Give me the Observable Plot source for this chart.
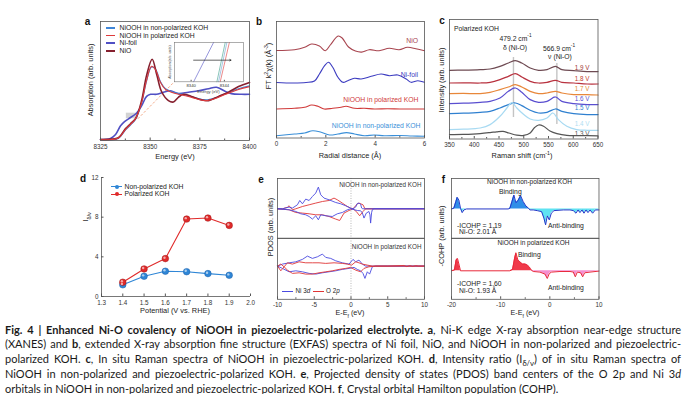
<!DOCTYPE html>
<html><head><meta charset="utf-8">
<script src="https://cdn.jsdelivr.net/npm/d3@7"></script>
<script src="https://cdn.jsdelivr.net/npm/@observablehq/plot@0.6"></script>
<style>
html,body{margin:0;padding:0;background:#fff;}
#fig{position:relative;width:686px;height:394px;overflow:hidden;background:#fff;font-family:"Liberation Sans",Arial,sans-serif;color:#222;}
.t{position:absolute;white-space:nowrap;line-height:1;}
.t sup,.t sub{font-size:0.7em;line-height:0;}
.cap{position:absolute;left:5px;width:676px;font-family:Lato,"Open Sans",sans-serif;font-size:11px;line-height:1;white-space:nowrap;color:#1a1a1a;}
.cap sub{font-size:0.7em;line-height:0;}
.sw{position:absolute;}
</style></head><body><div id="fig"></div>
<script>
// ---------- Panel a: XANES (energy eV, absorption) ----------
const xanesNiFoil = [[8325,0.014],[8330,0.03],[8332.6,0.086],[8335.1,0.21],[8337.1,0.27],[8339.1,0.31],[8343.1,0.39],[8345.6,0.49],[8348.2,0.63],[8350.2,0.66],[8353.2,0.66],[8356.7,0.69],[8360.2,0.71],[8364.3,0.67],[8369.3,0.69],[8374.3,0.71],[8379.4,0.74],[8383.4,0.76],[8387.9,0.70],[8390.9,0.67],[8396,0.66],[8400,0.66]];
const xanesNiO = [[8325,0.014],[8330,0.02],[8334,0.04],[8337.6,0.17],[8340.1,0.24],[8342.6,0.31],[8345.6,0.56],[8348.2,0.93],[8351,1.16],[8353.4,0.93],[8355.7,0.70],[8359.2,0.57],[8361.7,0.55],[8364.3,0.62],[8366.8,0.66],[8370.8,0.63],[8375.8,0.58],[8379.4,0.57],[8384.4,0.63],[8389.4,0.69],[8394.5,0.77],[8400,0.83]];
const xanesNiOOHpol = [[8325,0.01],[8334,0.035],[8337.6,0.16],[8340.1,0.23],[8342.6,0.31],[8345.6,0.53],[8348.2,0.86],[8350.7,1.06],[8352.7,1.01],[8355.2,0.83],[8357.7,0.73],[8360.7,0.69],[8364.3,0.66],[8367.8,0.64],[8372.8,0.60],[8377.9,0.57],[8382.9,0.60],[8387.9,0.66],[8394.5,0.73],[8400,0.77]];
const xanesNiOOHnon = [[8325,0.01],[8334,0.03],[8337.6,0.15],[8340.1,0.22],[8342.6,0.30],[8345.6,0.52],[8348.2,0.85],[8350.7,1.05],[8352.7,1.02],[8355.2,0.84],[8357.7,0.74],[8360.7,0.70],[8364.3,0.67],[8367.8,0.65],[8372.8,0.61],[8377.9,0.58],[8382.9,0.61],[8387.9,0.67],[8394.5,0.74],[8400,0.78]];
const xanesTicks = [8325,8350,8375,8400];
const xanesMinor = [8337.5,8362.5,8387.5];
const xanesBox = [[8338,0.31],[8344,0.39]];
const xanesGuide = [[8343.8,0.31],[8362.2,0.84]];
const insetNiFoil = [[8340.3,0],[8342.7,1]];
const insetNiO = [[8343.1,0],[8344.1,1]];
const insetNon = [[8343.3,0],[8344.3,1]];
const insetPol = [[8343.5,0],[8344.6,1]];
const insetArrow = [[8340.3,0.55],[8344.8,0.55]];
const insetTicks = [8340,8344];

// ---------- Panel b: EXAFS (R Å, FT magnitude offset) ----------
const exafsNiO = [[0,87.5],[0.73,88.3],[1.14,90.7],[1.42,94],[1.74,92],[1.98,87.2],[2.18,93],[2.50,102],[2.66,100],[2.92,91],[3.2,87],[3.45,85.9],[3.76,88.3],[4.16,87.3],[4.57,89.7],[4.97,88.3],[5.31,90.7],[5.65,89.3],[6,87.3]];
const exafsNiFoil = [[0,55.5],[0.7,55],[1.2,55.5],[1.54,57],[1.74,64],[1.95,72.3],[2.11,75.7],[2.28,70.7],[2.49,60.7],[2.69,55.7],[2.89,57.3],[3.16,59.7],[3.43,59],[3.84,61.7],[4.24,64],[4.58,62.3],[4.92,63],[5.26,59],[5.46,55.7],[5.73,57.3],[6,55.7]];
const exafsPol = [[0,29],[0.73,29.7],[1.14,30.7],[1.42,33],[1.68,31.7],[1.93,29],[2.28,29.7],[2.62,30.7],[2.82,31.7],[3.16,29.7],[3.56,29.7],[3.97,29],[4.5,29.3],[5,29],[5.5,29],[6,29]];
const exafsNon = [[0,2.3],[0.73,4],[1.14,5],[1.47,7.3],[1.81,5.7],[2.15,3],[2.49,4],[2.84,5.4],[3.16,4],[3.56,2.3],[3.97,3],[4.37,2.3],[5,2.5],[5.5,2],[6,1.7]];
const exafsTicks = [0,2,4,6];
const exafsMinor = [1,3,5];

// ---------- Panel c: Raman (cm-1, offset intensity) ----------
const ramanV19 = [[350,68.7],[378,68.9],[412,69.4],[432,70],[452,72.7],[469,76],[483,78.4],[496,76],[513,71],[530,68.7],[547,69.4],[564,72.7],[577,69.4],[601,68.4],[628,67.4],[650,67.4]];
const ramanV18 = [[350,56],[378,56.2],[412,56],[432,56.7],[452,59.4],[469,62.7],[483,65.4],[496,62],[513,57.7],[530,56],[547,56.7],[564,58.7],[577,56.7],[601,56],[628,55],[650,55]];
const ramanV17 = [[350,45.4],[378,45.6],[412,45.4],[432,46.7],[452,49.4],[469,52],[483,54.4],[496,52],[513,47.7],[530,45.4],[547,46],[564,47.7],[577,46],[601,44.4],[628,44.4],[650,44]];
const ramanV16 = [[350,35.4],[378,35.8],[412,36.7],[432,37.7],[452,41],[469,47.7],[483,51],[496,46.7],[513,39.4],[530,36.7],[547,37.7],[564,42],[577,37.7],[601,35.4],[628,34.4],[650,34.4]];
const ramanV15 = [[350,25.4],[378,25.8],[412,26.7],[432,27.7],[452,31],[469,34.4],[483,36],[496,33.4],[513,28.7],[530,26],[547,26.7],[564,30],[577,27.7],[601,25.4],[628,24.4],[650,24.4]];
const ramanV14 = [[350,9.4],[378,9.8],[412,11],[432,14.4],[452,22.7],[466,31],[476,36.5],[486,31],[500,24.4],[513,20],[530,18.7],[547,21],[559,26],[570,19.4],[587,12.7],[607,9.4],[628,8.7],[650,8.7]];
const ramanV13 = [[350,4.4],[378,4.6],[412,5.4],[432,6.4],[445,7.2],[458,7.7],[470,6],[486,3.8],[500,3.6],[513,6],[522,11.5],[530,14],[540,12.7],[553,8],[567,5.4],[587,3.6],[615,3.4],[650,3.2]];
const ramanLabels = ["1.9 V","1.8 V","1.7 V","1.6 V","1.5 V","1.4 V","1.3 V"];
const ramanPeaks = [479.2,566.9];
const ramanPeakLow = [22,15];
const ramanPeakHigh = [82,76];
const ramanTicks = [350,400,450,500,550,600,650];
const ramanMinor = [375,425,475,525,575,625];

// ---------- Panel d: intensity ratio ----------
const potentials = [1.4,1.5,1.6,1.7,1.8,1.9];
const ratioNonPolarized = [1.18,2.04,2.55,2.5,2.31,2.14];
const ratioPolarized = [1.44,2.78,3.82,7.81,7.91,7.17];
const potentialTicks = [1.3,1.4,1.5,1.6,1.7,1.8,1.9,2.0];
const ratioTicks = [0,4,8,12];

// ---------- Panel e: PDOS (E-Ef eV, DOS) ----------
const pdosNonNiUp = [[-10,0],[-9.33,0],[-8.42,1.7],[-7.97,0.7],[-7.29,4],[-6.97,8.3],[-6.61,5],[-6.16,9.7],[-5.70,8.3],[-5.25,12.3],[-4.80,15.7],[-4.44,21.7],[-4.12,14],[-3.67,10.7],[-2.99,9],[-2.08,6.3],[-1.40,5],[-0.72,3],[-0.05,0.7],[0.27,0],[0.63,1.7],[0.86,5.3],[1.09,5.7],[1.31,4.5],[1.45,0.7],[1.6,0],[10,0]];
const pdosNonNiDn = [[-10,0],[-8.42,-1],[-7.51,-2.7],[-6.84,-5],[-6.16,-6],[-5.70,-7.7],[-5.25,-10.3],[-4.80,-7],[-4.44,-11],[-4.12,-6],[-3.44,-7],[-2.54,-7.7],[-1.86,-5],[-1.18,-3.7],[-0.50,-1],[-0.05,0],[0.86,-1.7],[1.31,-2],[1.54,-4],[1.77,-9.3],[2.08,-4.3],[2.44,-2.7],[2.58,-6],[2.67,-14.3],[2.80,-4],[2.90,-1],[3.12,0],[10,0]];
const pdosNonOUp = [[-10,0],[-9.33,0],[-8.65,1.5],[-8.42,3],[-7.97,-1],[-7.51,0],[-6.61,2.3],[-5.70,4],[-4.80,5.7],[-3.89,7.3],[-2.99,8.3],[-2.31,10.7],[-1.86,9],[-1.18,5.7],[-0.50,2.3],[-0.05,0.7],[0.27,0],[0.63,3],[0.86,5],[1.09,5.7],[1.63,4],[1.9,0],[10,0]];
const pdosNonODn = [[-10,0],[-8.42,-1],[-7.51,-3.7],[-6.61,-4.3],[-5.70,-5],[-4.80,-6],[-3.89,-6],[-2.99,-7.7],[-2.08,-10.3],[-1.54,-11.7],[-0.95,-4.3],[-0.27,-1.7],[0.27,0],[0.72,-2.7],[1.18,-7],[1.63,-2.7],[1.99,0],[10,0]];
const pdosPolNiUp = [[-10,0],[-9.33,2],[-8.42,3.3],[-7.51,4.3],[-6.61,6.7],[-5.93,10],[-5.25,7.7],[-4.57,9.3],[-3.89,12],[-3.44,8.7],[-2.76,7.7],[-2.08,5.3],[-1.18,3.3],[-0.27,2],[0.27,6.7],[0.63,4.3],[1.09,6],[1.54,2],[1.99,0],[10,0]];
const pdosPolNiDn = [[-10,0],[-9.33,-2.3],[-8.42,-5.7],[-7.51,-4.7],[-6.61,-5.7],[-5.70,-7.3],[-4.80,-8],[-3.89,-6.7],[-2.99,-5.7],[-2.08,-4.7],[-1.18,-3.3],[-0.27,-2.3],[0.41,-1.3],[0.86,-3.3],[1.31,-4.7],[1.63,-7.3],[1.90,-12.3],[2.22,-5.7],[2.53,-8],[2.90,-0.7],[3.35,0],[10,0]];
const pdosPolOUp = [[-10,0],[-9.55,2],[-9.10,-0.7],[-8.65,3.3],[-7.97,2],[-7.06,4.3],[-6.16,3.3],[-5.25,3.3],[-4.35,3.3],[-3.44,2.7],[-2.31,3.3],[-1.18,2.7],[-0.50,2],[0.09,1],[0.63,4.3],[1.09,3.3],[1.54,2],[2.22,1],[2.90,0],[5,0],[7.2,0.6],[7.6,-0.5],[8,0.5],[8.4,-0.4],[8.8,0.5],[9.2,0],[10,0]];
const pdosPolODn = [[-10,0],[-9.55,-4.7],[-9.10,-0.7],[-8.65,-4],[-7.97,-7.3],[-7.06,-6.7],[-6.16,-8],[-5.25,-8],[-4.35,-6.7],[-3.44,-5.7],[-2.54,-4.7],[-1.63,-3.3],[-0.72,-2.3],[-0.05,-1.3],[0.63,-4],[1.31,-5.7],[1.77,-2.3],[2.44,-0.7],[3.35,0],[10,0]];
const pdosTicks = [-10,-5,0,5,10];
const pdosMinor = [-7.5,-2.5,2.5,7.5];

// ---------- Panel f: COHP ----------
const cohpNon = [[-20,0],[-19.53,0.7],[-19.12,7.3],[-18.85,11.7],[-18.51,9],[-18.17,0.7],[-17.83,-3.7],[-17.49,-1],[-16.95,0],[-8.46,0],[-8.12,0.7],[-7.71,7.3],[-7.31,14],[-6.90,6.3],[-6.49,8.3],[-5.95,13.3],[-5.41,7.3],[-4.87,3],[-4.32,0.7],[-4.05,-1],[-3.37,-1],[-2.56,-1.7],[-1.67,-2.7],[-1.20,-9.3],[-0.86,-16],[-0.52,-7],[-0.11,-11],[0.30,-4.3],[0.84,-1.7],[2.74,-1],[4.10,-1],[4.78,-1.7],[5.32,-4.3],[5.73,-1],[6.13,-3.7],[6.54,-1],[6.95,-4.3],[7.35,-1],[7.76,-3.7],[8.17,-1],[8.71,-4.3],[9.25,-1],[10,-1]];
const cohpPol = [[-20,0],[-19.40,0.7],[-19.06,10.7],[-18.78,12.3],[-18.44,5.7],[-18.17,0],[-8.12,0],[-7.58,1.3],[-7.17,12.3],[-6.90,18],[-6.49,10.7],[-6.09,9],[-5.55,6.7],[-5.00,6.7],[-4.59,5.7],[-4.19,4],[-3.78,0.7],[-3.37,-0.7],[-2.01,-1.3],[-0.99,-3.3],[-0.52,-7.7],[-0.11,-2.7],[0.36,-1.3],[2.06,-0.7],[4.10,-0.7],[4.78,-1.3],[5.18,-6],[5.59,-1.3],[6.27,-2],[6.68,-6],[7.08,-2],[8.17,-1.3],[10,-0.3]];
const cohpTicks = [-20,-10,0,10];
const cohpMinor = [-15,-5,5];

// ======================================================
const fig = document.getElementById("fig");
const FONT = '"Liberation Sans", Arial, sans-serif';
const X = d => d[0], Y = d => d[1];

function panel(o) {
  const ml = o.ml ?? 16, mr = o.mr ?? 8, mt = o.mt ?? 6, mb = o.mb ?? 14;
  const svg = Plot.plot({
    width: o.x1 - o.x0 + ml + mr, height: o.y1 - o.y0 + mt + mb,
    marginLeft: ml, marginRight: mr, marginTop: mt, marginBottom: mb,
    x: o.x, y: o.y, marks: o.marks,
    style: {fontSize: (o.fs || 6.3) + "px", fontFamily: FONT, color: "#333", background: "transparent", overflow: "visible"}
  });
  svg.style.position = "absolute";
  svg.style.left = (o.x0 - ml) + "px";
  svg.style.top = (o.y0 - mt) + "px";
  svg.style.maxWidth = "none";
  fig.appendChild(svg);
  return svg;
}
function xAxes(ticks, minor, fmt, pad = 3.2, size = -2.5) {
  const out = [
    Plot.axisX({ticks, tickSize: 0, tickPadding: pad, tickFormat: fmt, label: null}),
    Plot.axisX({ticks, tickSize: size, fill: "none", stroke: "#555", label: null})
  ];
  if (minor) out.push(Plot.axisX({ticks: minor, tickSize: size * 0.6, fill: "none", stroke: "#555", label: null}));
  return out;
}
function T(html, x, y, o = {}) {
  const d = document.createElement("div");
  d.className = "t"; d.innerHTML = html;
  d.style.fontSize = (o.size || 6.8) + "px";
  d.style.color = o.color || "#222";
  if (o.weight) d.style.fontWeight = o.weight;
  d.style.left = x + "px"; d.style.top = y + "px";
  const a = o.anchor || "start";
  const tx = a === "start" ? "0" : a === "middle" ? "-50%" : "-100%";
  d.style.transform = o.rotate ? "translate(-50%,-50%) rotate(-90deg)" : `translate(${tx},-50%)`;
  fig.appendChild(d);
  return d;
}
function swatch(x, y, w, color, sw) {
  const d = document.createElement("div");
  d.className = "sw";
  d.style.left = x + "px"; d.style.top = (y - sw / 2) + "px";
  d.style.width = w + "px"; d.style.height = sw + "px"; d.style.background = color;
  fig.appendChild(d);
}
const frame = () => Plot.frame({stroke: "#555", strokeWidth: 0.8});

// ---------- a ----------
const aCol = {non: "#3f86d8", pol: "#de3a3c", foil: "#5050c4", nio: "#86202f"};
panel({x0: 100, x1: 249, y0: 21, y1: 140,
  x: {domain: [8325, 8400]}, y: {domain: [0, 1.7], axis: null},
  marks: [
    Plot.rect([xanesBox], {x1: d => d[0][0], x2: d => d[1][0], y1: d => d[0][1], y2: d => d[1][1], fill: "#c8c8c8", fillOpacity: 0.8}),
    Plot.link([xanesGuide], {x1: d => d[0][0], y1: d => d[0][1], x2: d => d[1][0], y2: d => d[1][1], stroke: "#f2a07a", strokeWidth: 0.9, strokeDasharray: "2.5,1.8"}),
    Plot.line(xanesNiFoil, {x: X, y: Y, stroke: aCol.foil, strokeWidth: 1.6, curve: "catmull-rom"}),
    Plot.line(xanesNiOOHnon, {x: X, y: Y, stroke: aCol.non, strokeWidth: 1.1, curve: "catmull-rom"}),
    Plot.line(xanesNiO, {x: X, y: Y, stroke: aCol.nio, strokeWidth: 1.6, curve: "catmull-rom"}),
    Plot.line(xanesNiOOHpol, {x: X, y: Y, stroke: aCol.pol, strokeWidth: 1.1, curve: "catmull-rom"}),
    ...xAxes(xanesTicks, xanesMinor, d => String(d), 4),
    frame()
  ]});
// inset
panel({x0: 174, x1: 243, y0: 42, y1: 81.3, ml: 8, mr: 4, mt: 2, mb: 8, fs: 4.2,
  x: {domain: [8338, 8346.3]}, y: {domain: [0, 1], axis: null},
  marks: [
    Plot.line(insetNiFoil, {x: X, y: Y, stroke: aCol.foil, strokeWidth: 0.6}),
    Plot.line(insetNiO, {x: X, y: Y, stroke: "#3aa08a", strokeWidth: 0.6}),
    Plot.line(insetNon, {x: X, y: Y, stroke: "#6fa0d0", strokeWidth: 0.6}),
    Plot.line(insetPol, {x: X, y: Y, stroke: aCol.pol, strokeWidth: 0.6}),
    Plot.arrow([insetArrow], {x1: d => d[0][0], y1: d => d[0][1], x2: d => d[1][0], y2: d => d[1][1], stroke: "#222", strokeWidth: 0.7, headLength: 3}),
    ...xAxes(insetTicks, null, d => String(d), 1.8, -1.5),
    Plot.frame({stroke: "#777", strokeWidth: 0.6})
  ]});
T("Energy (eV)", 208.5, 91.8, {size: 4.2, anchor: "middle", color: "#444"});
T("Absorption (arb. units)", 171.2, 61.5, {size: 3.4, rotate: true, color: "#444"});
// legend a
[["NiOOH in non-polarized KOH", aCol.non, 1.2], ["NiOOH in polarized KOH", aCol.pol, 1.2], ["Ni-foil", aCol.foil, 2], ["NiO", aCol.nio, 2]]
  .forEach(([t, c, w], i) => { const y = 28 + i * 7.6; swatch(105.5, y, 9.5, c, w); T(t, 119.5, y, {size: 6.8, color: "#222"}); });
T("Energy (eV)", 175, 157, {size: 7.4, anchor: "middle"});
T("Absorption (arb. units)", 91, 80, {size: 7.4, rotate: true});
T("a", 87.5, 22, {size: 10, weight: "bold", anchor: "middle", color: "#111"});

// ---------- b ----------
const bCol = {nio: "#a8454f", foil: "#3c3cc0", pol: "#d03a3a", non: "#3a8fd8"};
panel({x0: 276, x1: 424, y0: 21, y1: 137.5,
  x: {domain: [0, 6]}, y: {domain: [0, 116.5], axis: null},
  marks: [
    Plot.line(exafsNiO, {x: X, y: Y, stroke: bCol.nio, strokeWidth: 1.1, curve: "catmull-rom"}),
    Plot.line(exafsNiFoil, {x: X, y: Y, stroke: bCol.foil, strokeWidth: 1.1, curve: "catmull-rom"}),
    Plot.line(exafsPol, {x: X, y: Y, stroke: bCol.pol, strokeWidth: 1.1, curve: "catmull-rom"}),
    Plot.line(exafsNon, {x: X, y: Y, stroke: bCol.non, strokeWidth: 1.1, curve: "catmull-rom"}),
    ...xAxes(exafsTicks, exafsMinor, d => String(d), 4),
    frame()
  ]});
T("NiO", 418, 41.3, {anchor: "end", color: bCol.nio});
T("Ni-foil", 418, 74.8, {anchor: "end", color: bCol.foil});
T("NiOOH in polarized KOH", 418.5, 99.8, {anchor: "end", color: bCol.pol});
T("NiOOH in non-polarized KOH", 420.5, 126.3, {anchor: "end", color: bCol.non});
T("Radial distance (Å)", 350, 155.5, {size: 7.4, anchor: "middle"});
T("FT k<sup>2</sup>χ(k) (Å<sup>-3</sup>)", 268.5, 66, {size: 7.4, rotate: true});
T("b", 259, 21.5, {size: 10, weight: "bold", anchor: "middle", color: "#111"});

// ---------- c ----------
const cCurves = [ramanV19, ramanV18, ramanV17, ramanV16, ramanV15, ramanV14, ramanV13];
const cLine = ["#6e4a52", "#b8323f", "#e8873a", "#5a4fd0", "#2f80d0", "#a8daf2", "#555555"];
const cLab = ["#a03535", "#c0392b", "#e08a2e", "#5a4fd0", "#2f80d0", "#b0def2", "#555555"];
const cLabY = [68, 78.5, 89, 99, 108.3, 124, 133.6];
panel({x0: 448.5, x1: 597, y0: 19, y1: 138.5,
  x: {domain: [350, 650]}, y: {domain: [0, 119.5], axis: null},
  marks: [
    Plot.link(ramanPeaks, {x1: d => d, x2: d => d, y1: (d, i) => ramanPeakLow[i], y2: (d, i) => ramanPeakHigh[i], stroke: "#c4c4c4", strokeWidth: 1.4}),
    ...cCurves.map((c, i) => Plot.line(c, {x: X, y: Y, stroke: cLine[i], strokeWidth: 1.25, curve: "catmull-rom"})),
    ...xAxes(ramanTicks, ramanMinor, d => String(d), 4),
    frame()
  ]});
ramanLabels.forEach((t, i) => T(t, 589.5, cLabY[i], {size: 6.3, anchor: "end", color: cLab[i]}));
T("Polarized KOH", 454, 28.7, {size: 6.8});
T("479.2 cm<sup>-1</sup>", 515.5, 39.3, {size: 6.8, anchor: "middle"});
T("δ (Ni-O)", 515, 47.7, {size: 6.8, anchor: "middle"});
T("566.9 cm<sup>-1</sup>", 559, 49.3, {size: 6.8, anchor: "middle"});
T("ν (Ni-O)", 560, 56.9, {size: 6.8, anchor: "middle"});
T("Raman shift (cm<sup>-1</sup>)", 522, 155.5, {size: 7.4, anchor: "middle"});
T("Intensity (arb. units)", 441.5, 80, {size: 7.4, rotate: true});
T("c", 442, 21, {size: 10, weight: "bold", anchor: "middle", color: "#111"});

// ---------- d ----------
const dNon = potentials.map((p, i) => [p, ratioNonPolarized[i]]);
const dPol = potentials.map((p, i) => [p, ratioPolarized[i]]);
const dBlue = "#2f86d6", dRed = "#e02a2a";
panel({x0: 101, x1: 250, y0: 177, y1: 296, ml: 18,
  x: {domain: [1.3, 2.0]}, y: {domain: [0, 12]},
  marks: [
    Plot.ruleX([potentialTicks[0]], {stroke: "#555", strokeWidth: 0.8}),
    Plot.ruleY([ratioTicks[0]], {stroke: "#555", strokeWidth: 0.8}),
    Plot.line(dNon, {x: X, y: Y, stroke: dBlue, strokeWidth: 1.1}),
    Plot.line(dPol, {x: X, y: Y, stroke: dRed, strokeWidth: 1.1}),
    Plot.dot(dNon, {x: X, y: Y, r: 3.3, fill: dBlue, stroke: "#1a5fa8", strokeWidth: 0.5}),
    Plot.dot(dPol, {x: X, y: Y, r: 3.3, fill: dRed, stroke: "#a01818", strokeWidth: 0.5}),
    Plot.dot(dNon, {x: X, y: Y, r: 1.2, fill: "#fff", fillOpacity: 0.6, dx: -0.9, dy: -0.9}),
    Plot.dot(dPol, {x: X, y: Y, r: 1.2, fill: "#fff", fillOpacity: 0.6, dx: -0.9, dy: -0.9}),
    ...xAxes(potentialTicks, null, d3.format(".1f"), 3.6),
    Plot.axisY({ticks: ratioTicks, tickSize: 0, tickPadding: 3, tickFormat: d => String(d), label: null}),
    Plot.axisY({ticks: ratioTicks, tickSize: -2.5, fill: "none", stroke: "#555", label: null})
  ]});
[["Non-polarized KOH", dBlue], ["Polarized KOH", dRed]].forEach(([t, c], i) => {
  const y = 186.8 + i * 7.6;
  swatch(111, y, 11, c, 1.1);
  const m = document.createElement("div");
  m.className = "sw"; m.style.left = "114.5px"; m.style.top = (y - 2) + "px";
  m.style.width = "4px"; m.style.height = "4px"; m.style.borderRadius = "50%"; m.style.background = c;
  fig.appendChild(m);
  T(t, 124.5, y, {size: 6.8});
});
T("Potential (V vs. RHE)", 175, 311, {size: 7.4, anchor: "middle"});
T("I<sub>δ/ν</sub>", 86, 217, {size: 7.6, rotate: true});
T("d", 83, 179, {size: 10, weight: "bold", anchor: "middle", color: "#111"});

// ---------- e ----------
const eBlue = "#4a4ae0", eRed = "#e03535";
const zeroLine = () => Plot.ruleX([pdosTicks[2]], {stroke: "#999", strokeWidth: 0.7, strokeDasharray: "1,1.5"});
panel({x0: 277, x1: 424, y0: 178, y1: 237.7, mb: 0,
  x: {domain: [-10, 10], axis: null}, y: {domain: [-29.4, 30.3], axis: null},
  marks: [
    zeroLine(),
    Plot.line(pdosNonODn, {x: X, y: Y, stroke: eRed, strokeWidth: 0.9}),
    Plot.line(pdosNonOUp, {x: X, y: Y, stroke: eRed, strokeWidth: 0.9}),
    Plot.line(pdosNonNiDn, {x: X, y: Y, stroke: eBlue, strokeWidth: 0.9}),
    Plot.line(pdosNonNiUp, {x: X, y: Y, stroke: eBlue, strokeWidth: 0.9}),
    frame()
  ]});
panel({x0: 277, x1: 424, y0: 237.7, y1: 298.5, mt: 0,
  x: {domain: [-10, 10]}, y: {domain: [-33.2, 27.6], axis: null},
  marks: [
    zeroLine(),
    Plot.line(pdosPolNiDn, {x: X, y: Y, stroke: eBlue, strokeWidth: 0.9}),
    Plot.line(pdosPolNiUp, {x: X, y: Y, stroke: eBlue, strokeWidth: 0.9}),
    Plot.line(pdosPolODn, {x: X, y: Y, stroke: eRed, strokeWidth: 0.9}),
    Plot.line(pdosPolOUp, {x: X, y: Y, stroke: eRed, strokeWidth: 0.9}),
    ...xAxes(pdosTicks, pdosMinor, d => String(d), 3),
    frame()
  ]});
T("NiOOH in non-polarized KOH", 421.5, 184.5, {size: 6.3, anchor: "end", color: "#333"});
T("NiOOH in polarized KOH", 421.5, 246.5, {size: 6.3, anchor: "end", color: "#333"});
swatch(282, 291.3, 11, eBlue, 1);
T("Ni 3<i>d</i>", 295.5, 291.3, {size: 6.3});
swatch(312.5, 291.3, 11, eRed, 1);
T("O 2<i>p</i>", 326, 291.3, {size: 6.3});
T("E-E<sub>f</sub> (eV)", 350, 312.8, {size: 7.2, anchor: "middle"});
T("PDOS (arb. units)", 270.5, 227, {size: 7.4, rotate: true});
T("e", 261, 180, {size: 10, weight: "bold", anchor: "middle", color: "#111"});

// ---------- f ----------
function cohpMarks(data, pos, neg, line) {
  return [
    Plot.areaY(data, {x: X, y1: 0, y2: d => Math.max(0, d[1]), fill: pos}),
    Plot.areaY(data, {x: X, y1: 0, y2: d => Math.min(0, d[1]), fill: neg}),
    Plot.line(data, {x: X, y: Y, stroke: line, strokeWidth: 1})
  ];
}
panel({x0: 451, x1: 598.5, y0: 178, y1: 237.7, mb: 0,
  x: {domain: [-20, 10], axis: null}, y: {domain: [-29.4, 30.6], axis: null},
  marks: [...cohpMarks(cohpNon, "#2f8ee8", "#5ee3f2", "#2436c8"), frame()]});
panel({x0: 451, x1: 598.5, y0: 237.7, y1: 298.5, mt: 0,
  x: {domain: [-20, 10]}, y: {domain: [-28.5, 32.3], axis: null},
  marks: [...cohpMarks(cohpPol, "#f03a4a", "#f58fd0", "#e8283a"), ...xAxes(cohpTicks, cohpMinor, d => String(d), 3), frame()]});
T("NiOOH in non-polarized KOH", 487, 182, {size: 6.5});
T("Binding", 499, 192, {size: 6.8});
T("-ICOHP = 1.19", 457, 225.5, {size: 6.8});
T("Ni-O: 2.01 Å", 459, 232.2, {size: 6.8});
T("Anti-binding", 548, 226, {size: 6.8});
T("NiOOH in polarized KOH", 497.5, 243, {size: 6.5});
T("Binding", 518, 255, {size: 6.8});
T("-ICOHP = 1.60", 457, 283.5, {size: 6.8});
T("Ni-O: 1.93 Å", 459, 290.7, {size: 6.8});
T("Anti-binding", 548, 287.5, {size: 6.8});
T("E-E<sub>f</sub> (eV)", 525, 312.8, {size: 7.2, anchor: "middle"});
T("-COHP (arb. units)", 442, 236, {size: 7.4, rotate: true});
T("f", 443.5, 180, {size: 10, weight: "bold", anchor: "middle", color: "#111"});

// ---------- caption ----------
const captionLines = [
  "<b>Fig. 4 | Enhanced Ni-O covalency of NiOOH in piezoelectric-polarized electrolyte.</b> <b>a</b>, Ni-K edge X-ray absorption near-edge structure",
  "(XANES) and <b>b</b>, extended X-ray absorption fine structure (EXFAS) spectra of Ni foil, NiO, and NiOOH in non-polarized and piezoelectric-",
  "polarized KOH. <b>c</b>, In situ Raman spectra of NiOOH in piezoelectric-polarized KOH. <b>d</b>, Intensity ratio (I<sub>δ/ν</sub>) of in situ Raman spectra of",
  "NiOOH in non-polarized and piezoelectric-polarized KOH. <b>e</b>, Projected density of states (PDOS) band centers of the O 2p and Ni 3<i>d</i>",
  "orbitals in NiOOH in non-polarized and piezoelectric-polarized KOH. <b>f</b>, Crystal orbital Hamilton population (COHP)."
];
const capW = 676;
captionLines.forEach((h, i) => {
  const d = document.createElement("div");
  d.className = "cap";
  d.style.top = (323.5 + i * 14.9) + "px";
  const s = document.createElement("span");
  s.innerHTML = h;
  d.appendChild(s);
  fig.appendChild(d);
  const w = s.getBoundingClientRect().width;
  if (w > capW) {
    s.style.display = "inline-block";
    s.style.transformOrigin = "0 50%";
    s.style.transform = `scaleX(${capW / w})`;
  } else if (i < captionLines.length - 1) {
    const spaces = (s.textContent.match(/ /g) || []).length;
    if (spaces) d.style.wordSpacing = ((capW - w) / spaces) + "px";
  }
});
</script></body></html>
